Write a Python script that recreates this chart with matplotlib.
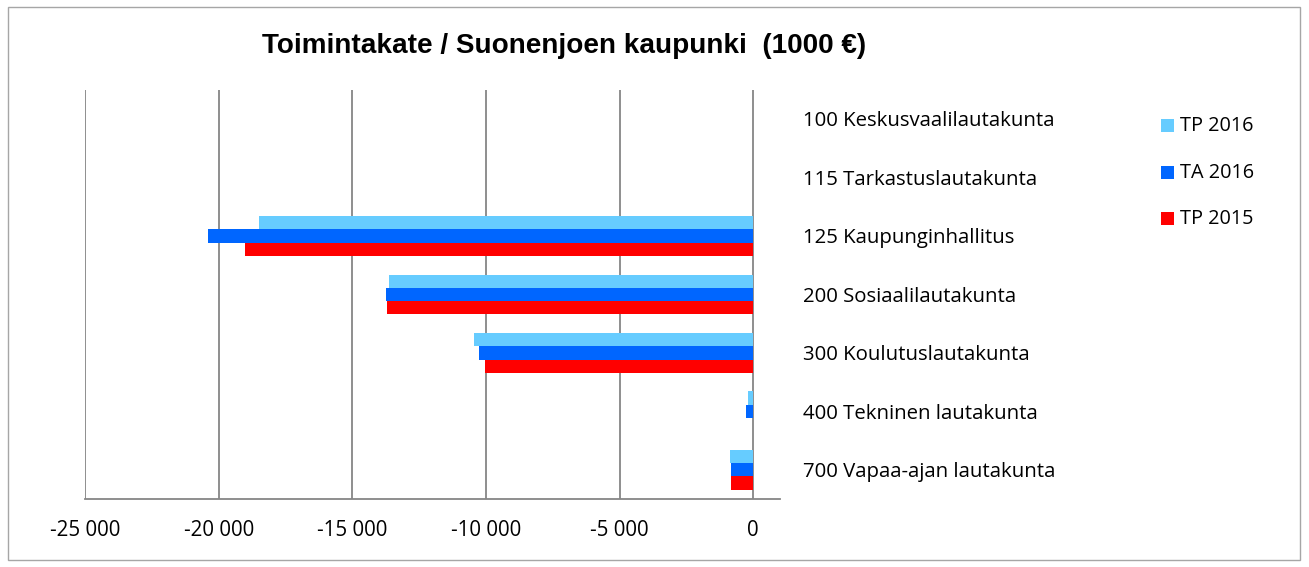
import matplotlib
matplotlib.use("Agg")
import matplotlib.pyplot as plt
from matplotlib.patches import Rectangle
import numpy as np

categories = ["100 Keskusvaalilautakunta", "115 Tarkastuslautakunta", "125 Kaupunginhallitus",
              "200 Sosiaalilautakunta", "300 Koulutuslautakunta", "400 Tekninen lautakunta",
              "700 Vapaa-ajan lautakunta"]
series_names = ["TP 2016", "TA 2016", "TP 2015"]
tp2016 = [0, 0, -18500, -13630, -10440, -180, -860]
ta2016 = [0, 0, -20400, -13730, -10250, -260, -840]
tp2015 = [0, 0, -19000, -13700, -10040, 0, -830]
colors = ["#66CCFF", "#0066FF", "#FF0000"]
xticks = [-25000, -20000, -15000, -10000, -5000, 0]
xticklabels = ["-25 000", "-20 000", "-15 000", "-10 000", "-5 000", "0"]
title = "Toimintakate / Suonenjoen kaupunki  (1000 €)"

W, H = 1309, 567
fig = plt.figure(figsize=(W / 100, H / 100), dpi=100)
ax = fig.add_axes([85/W, 1-499/H, (780-85)/W, (499-90)/H])

y = np.arange(len(categories))
h = 0.227
for i, (vals, col, name) in enumerate(zip([tp2016, ta2016, tp2015], colors, series_names)):
    ax.barh(y + (i - 1) * h, vals, height=h, color=col, label=name, zorder=3)

ax.set_ylim(len(categories) - 0.5, -0.5)
ax.set_xlim(-25000, 1000)
ax.set_xticks(xticks)
ax.set_xticklabels(xticklabels, fontsize=14.8, fontfamily="Open Sans")
ax.tick_params(axis="x", length=0, pad=15)
ax.set_yticks([])
for x in xticks:
    ax.axvline(x, color="#868686", lw=1.3, zorder=1)
for s in ["top", "left", "right"]:
    ax.spines[s].set_visible(False)
ax.spines["bottom"].set_color("#868686")
ax.spines["bottom"].set_linewidth(1.3)

for yi, cat in zip(y, categories):
    ax.annotate(cat, xy=(1, yi), xycoords=("axes fraction", "data"), xytext=(16.5, -1.6),
                textcoords="offset points", ha="left", va="center", fontsize=14.7,
                fontfamily="Open Sans")

fig.text(564/W, 1-46/H, title, ha="center", va="center", fontsize=20.1,
         fontweight="bold", fontfamily="Liberation Sans")

# legend
leg_y = [125, 172, 218]
for ly, name, col in zip(leg_y, series_names, colors):
    fig.patches.append(Rectangle((1161/W, 1-(ly+6.5)/H), 13/W, 13/H,
                                 transform=fig.transFigure, facecolor=col, edgecolor="none"))
    fig.text(1180/W, 1-(ly+1)/H, name, ha="left", va="center", fontsize=14.3, fontfamily="Open Sans")

fig.patches.append(Rectangle((8/W, 1-560/H), (1300-8)/W, (560-7)/H,
                             transform=fig.transFigure, fill=False, edgecolor="#A6A6A6", lw=1))

fig.savefig("out.png", dpi=100)
